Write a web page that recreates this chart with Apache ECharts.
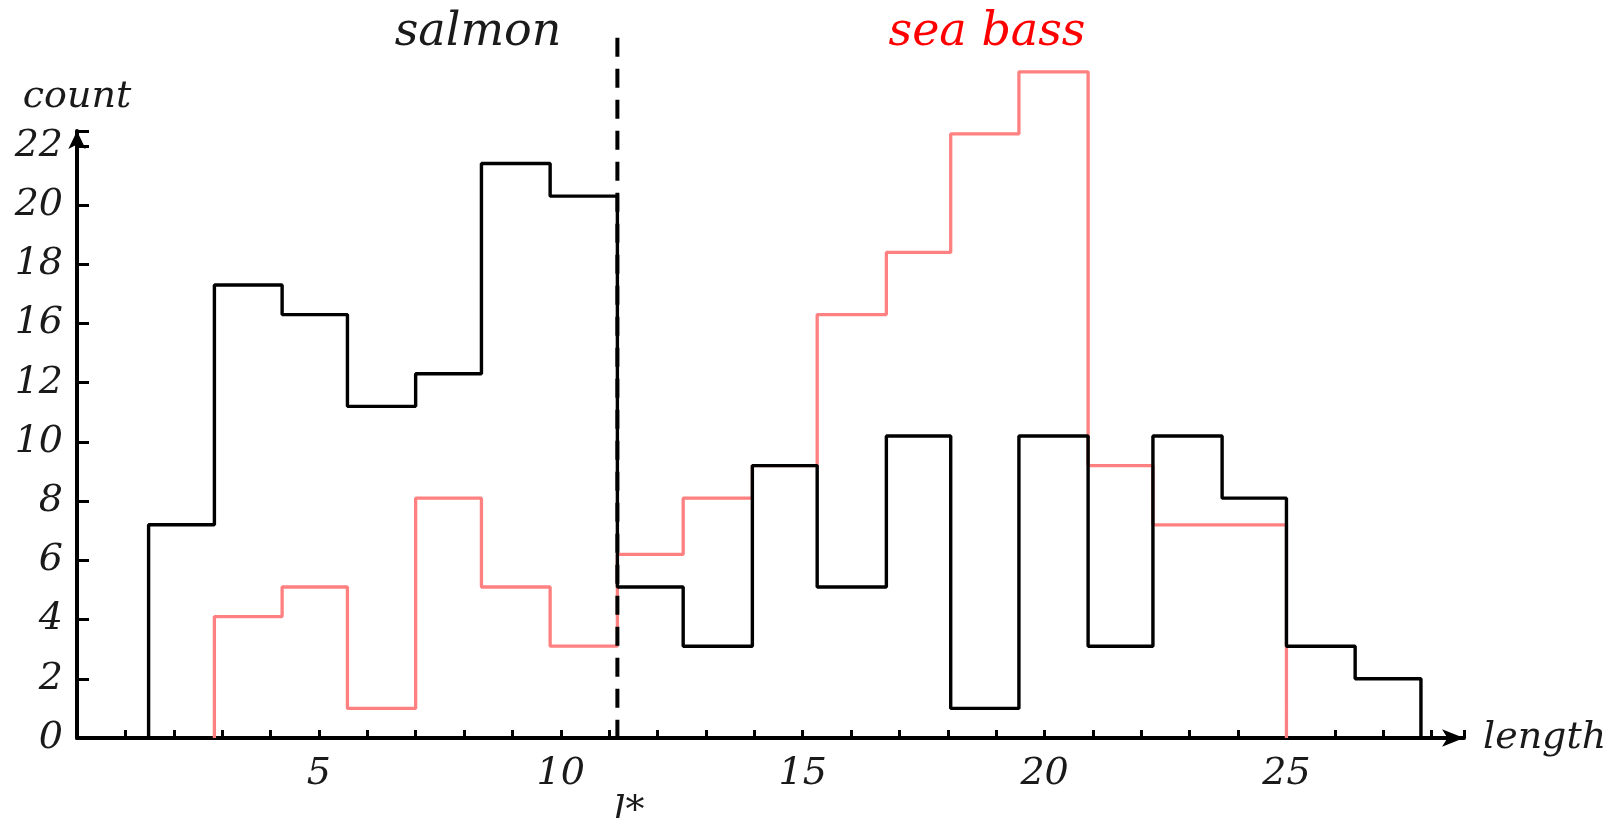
<!DOCTYPE html>
<html><head><meta charset="utf-8">
<script src="https://cdn.jsdelivr.net/npm/echarts@6/dist/echarts.min.js"></script>
<style>html,body{margin:0;padding:0;background:#fff}#c{width:1620px;height:818px}</style>
</head><body><div id="c"></div>
<script>
// bin edges along "length"
const binEdges = [1.48, 2.84, 4.24, 5.59, 7.0, 8.36, 9.78, 11.17, 12.53, 13.96, 15.30, 16.73, 18.06, 19.47, 20.90, 22.24, 23.67, 25.0, 26.42, 27.78];
// counts per bin, in the drawn (linear) axis units
const salmonCounts  = [7.2, 15.3, 14.3, 11.2, 12.3, 19.4, 18.3, 5.1, 3.1, 9.2, 5.1, 10.2, 1.0, 10.2, 3.1, 10.2, 8.1, 3.1, 2.0];
const seaBassCounts = [0, 4.1, 5.1, 1.0, 8.1, 5.1, 3.1, 6.2, 8.1, 9.2, 14.3, 16.4, 20.4, 22.5, 9.2, 7.2, 7.2, 0, 0];
// tick labels as printed on the axes
const yTickLabels = ['0', '2', '4', '6', '8', '10', '12', '16', '18', '20', '22'];
const xTickLabels = [5, 10, 15, 20, 25];
const lStar = 11.17;

const FONT = 'DejaVu Serif';
const TXT = '#1a1a1a';

function stepOutline(counts) {
  const first = counts.findIndex(v => v > 0);
  let last = counts.length - 1;
  while (last > 0 && !(counts[last] > 0)) last--;
  const pts = [[binEdges[first], 0]];
  for (let i = first; i <= last; i++) pts.push([binEdges[i], counts[i]]);
  pts.push([binEdges[last + 1], 0]);
  return pts;
}

const chart = echarts.init(document.getElementById('c'), null, {renderer: 'canvas'});
const option = {
  animation: false,
  backgroundColor: '#fff',
  grid: {left: 77, right: 156, top: 131, bottom: 80, containLabel: false},
  xAxis: {
    type: 'value', min: 0, max: 28.67, interval: 1,
    axisLine: {show: true, onZero: false, lineStyle: {color: '#000', width: 4}, symbol: ['none', 'arrow'], symbolSize: [13, 22]},
    axisTick: {show: true, inside: true, length: 8, lineStyle: {color: '#000', width: 3}},
    axisLabel: {
      formatter: v => xTickLabels.includes(v) ? String(v) : '',
      fontFamily: FONT, fontStyle: 'italic', fontSize: 38, color: TXT, margin: 17
    },
    splitLine: {show: false},
    name: 'length', nameLocation: 'end', nameGap: 19,
    nameTextStyle: {fontFamily: FONT, fontStyle: 'italic', fontSize: 38, color: TXT}
  },
  yAxis: {
    type: 'value', min: 0, max: 20.5, interval: 2,
    axisLine: {show: true, onZero: false, lineStyle: {color: '#000', width: 4}, symbol: ['none', 'arrow'], symbolSize: [13, 18]},
    axisTick: {show: true, inside: true, length: 12, lineStyle: {color: '#000', width: 3}},
    axisLabel: {
      formatter: v => { const k = v / 2; return (Number.isInteger(k) && yTickLabels[k] !== undefined) ? yTickLabels[k] : ''; },
      fontFamily: FONT, fontStyle: 'italic', fontSize: 38, color: TXT, margin: 14,
      padding: [5, 0, 0, 0]
    },
    splitLine: {show: false},
    name: 'count', nameLocation: 'end', nameGap: 15,
    nameTextStyle: {fontFamily: FONT, fontStyle: 'italic', fontSize: 38, color: TXT}
  },
  series: [
    {
      name: 'sea bass', type: 'line', step: 'end', symbol: 'none', clip: false, z: 2,
      lineStyle: {color: '#ff8080', width: 3.3}, data: stepOutline(seaBassCounts)
    },
    {
      name: 'salmon', type: 'line', step: 'end', symbol: 'none', clip: false, z: 3,
      lineStyle: {color: '#000', width: 3.4}, data: stepOutline(salmonCounts)
    },
    {
      name: 'l*', type: 'line', symbol: 'none', clip: false, z: 4,
      lineStyle: {color: '#000', width: 4, type: [19, 12]},
      data: [[lStar, 23.65], [lStar, -0.15]]
    }
  ]
};
chart.setOption(option);
const lx = chart.convertToPixel({gridIndex: 0}, [lStar, 0])[0];
chart.setOption({
  graphic: [
    {type: 'text', style: {text: 'salmon', x: 478, y: 33, align: 'center', verticalAlign: 'middle', textAlign: 'center', textVerticalAlign: 'middle', fontFamily: FONT, fontStyle: 'italic', fontSize: 46, fill: TXT}},
    {type: 'text', style: {text: 'sea bass', x: 987, y: 33, align: 'center', verticalAlign: 'middle', textAlign: 'center', textVerticalAlign: 'middle', fontFamily: FONT, fontStyle: 'italic', fontSize: 46, fill: '#ff0000'}},
    {type: 'text', style: {text: 'l*', x: lx - 4, y: 793, align: 'left', verticalAlign: 'top', textAlign: 'left', textVerticalAlign: 'top', fontFamily: FONT, fontStyle: 'italic', fontSize: 38, fill: TXT}}
  ]
});
</script>
</body></html>
